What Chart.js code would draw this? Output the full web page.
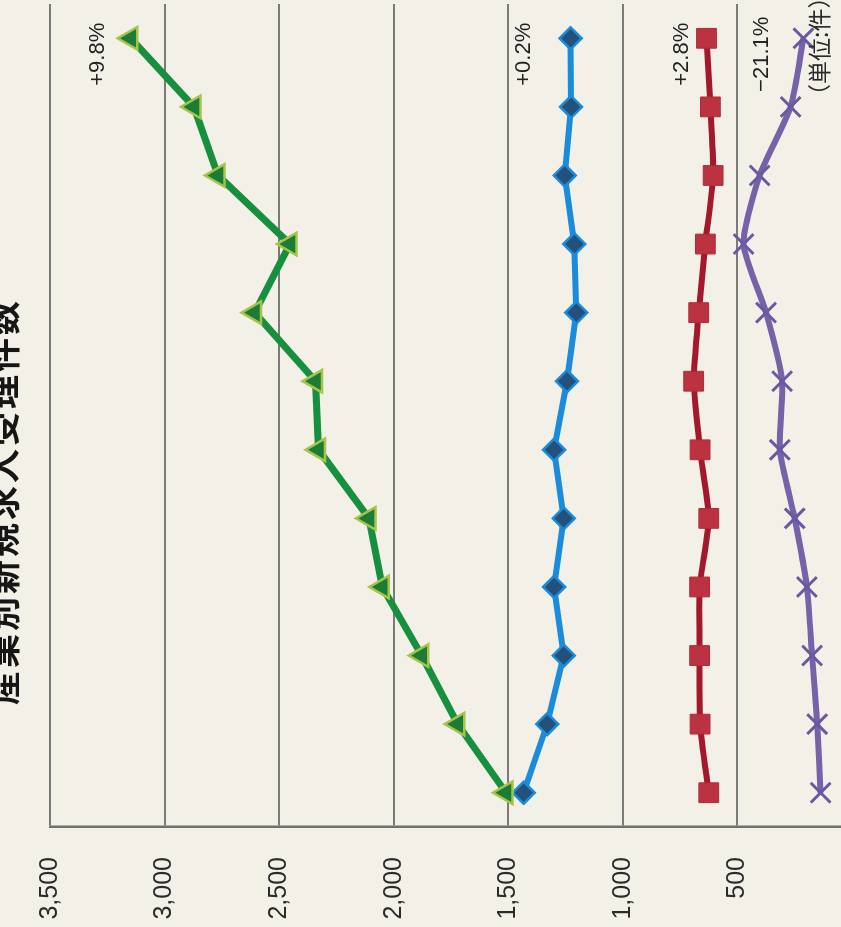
<!DOCTYPE html>
<html lang="ja">
<head>
<meta charset="utf-8">
<script src="https://cdn.jsdelivr.net/npm/chart.js@4"></script>
<style>
    html, body { margin: 0; padding: 0; overflow: hidden; background: #f2f0e7; }
    body { width: 841px; height: 927px; position: relative; }
    /* the chart is drawn upright and turned a quarter left, like the page in the photo */
    #wrap {
        position: absolute; left: 0; top: 0;
        width: 940px; height: 897px;
        transform-origin: 0 0;
        transform: translateY(927px) rotate(-90deg);
    }
    #title {
        position: absolute; left: 222px; top: -23px;
        font: bold 34px "Noto Sans CJK JP", sans-serif;
        letter-spacing: 3px; color: #161616; white-space: nowrap;
    }
    #unit {
        position: absolute; left: 820px; top: 807px;
        font: 23px "Noto Sans CJK JP", sans-serif;
        color: #2a2a2a; white-space: nowrap; line-height: 1;
    }
</style>
</head>
<body>
<div id="wrap">
    <canvas id="lineChart" width="940" height="897"></canvas>
    <div id="title">産業別新規求人受理件数</div>
    <div id="unit">（単位:件）</div>
</div>
<script>
const categories = ['1', '2', '3', '4', '5', '6', '7', '8', '9', '10', '11', '12'];

const greenValues  = [1510, 1721, 1878, 2050, 2108, 2328, 2341, 2607, 2453, 2767, 2872, 3148];
const blueValues   = [1433, 1330, 1258, 1300, 1258, 1300, 1244, 1203, 1212, 1254, 1226, 1228];
const redValues    = [625, 663, 665, 665, 625, 663, 691, 669, 640, 606, 618, 635];
const purpleValues = [137, 152, 174, 197, 250, 315, 305, 375, 473, 403, 268, 212];

// same order as the datasets: green, blue, red, purple
const changeLabels = ['+9.8%', '+0.2%', '+2.8%', '\u221221.1%'];

const valueTicks = { min: 0, max: 3500, step: 500 };

// writes the change label just above the last point of each line
const changeLabelPlugin = {
    id: 'changeLabels',
    afterDatasetsDraw(chart) {
        const ctx = chart.ctx;
        ctx.save();
        ctx.font = '22px "Liberation Sans", Arial, sans-serif';
        ctx.fillStyle = '#222';
        ctx.textAlign = 'center';
        ctx.textBaseline = 'middle';
        chart.data.datasets.forEach((ds, i) => {
            const meta = chart.getDatasetMeta(i);
            const pt = meta.data[meta.data.length - 1];
            if (!pt) return;
            ctx.fillText(changeLabels[i], pt.x - 16, pt.y - ds.labelLift);
        });
        ctx.restore();
    }
};

const lineChartConfig = {
    type: 'line',
    data: {
        labels: categories,
        datasets: [
            {
                data: greenValues,
                borderColor: '#16903e',
                borderWidth: 7,
                pointStyle: 'triangle',
                pointRadius: 13,
                pointBackgroundColor: '#1b7c36',
                pointBorderColor: '#a7c44a',
                pointBorderWidth: 2.5,
                tension: 0,
                labelLift: 33,
                order: 1
            },
            {
                data: blueValues,
                borderColor: '#1b8cdb',
                borderWidth: 6,
                pointStyle: 'rectRot',
                pointRadius: 11,
                pointBackgroundColor: '#23517c',
                pointBorderColor: '#1b8cdb',
                pointBorderWidth: 2.5,
                tension: 0,
                labelLift: 47,
                order: 2
            },
            {
                data: redValues,
                borderColor: '#a3192b',
                borderWidth: 6,
                pointStyle: 'rect',
                pointRadius: 14,
                pointBackgroundColor: '#bb3340',
                pointBorderColor: '#b02b38',
                pointBorderWidth: 1,
                tension: 0.2,
                labelLift: 25,
                order: 3
            },
            {
                data: purpleValues,
                borderColor: '#7562a9',
                borderWidth: 6,
                pointStyle: 'crossRot',
                pointRadius: 14,
                pointBorderColor: '#6a58a0',
                pointBorderWidth: 3,
                tension: 0.2,
                labelLift: 41,
                order: 4
            }
        ]
    },
    options: {
        responsive: false,
        animation: false,
        events: [],
        layout: {
            padding: { top: 50, bottom: 28, left: 0, right: 0 }
        },
        plugins: {
            legend: { display: false },
            tooltip: { enabled: false },
            title: { display: false }
        },
        scales: {
            x: {
                type: 'category',
                display: false,
                offset: true
            },
            y: {
                min: valueTicks.min,
                max: valueTicks.max,
                afterFit(scale) {
                    scale.width = 100;
                },
                grid: {
                    color: '#7a7a78',
                    lineWidth: 2,
                    drawTicks: false
                },
                border: {
                    display: true,
                    color: '#6f6f6d',
                    width: 2.5
                },
                ticks: {
                    stepSize: valueTicks.step,
                    padding: 30,
                    color: '#2b2b2b',
                    font: { family: '"Liberation Sans", Arial, sans-serif', size: 25 },
                    callback: (v) => v.toLocaleString('en-US')
                }
            }
        }
    },
    plugins: [changeLabelPlugin]
};

new Chart(document.getElementById('lineChart').getContext('2d'), lineChartConfig);
</script>
</body>
</html>
